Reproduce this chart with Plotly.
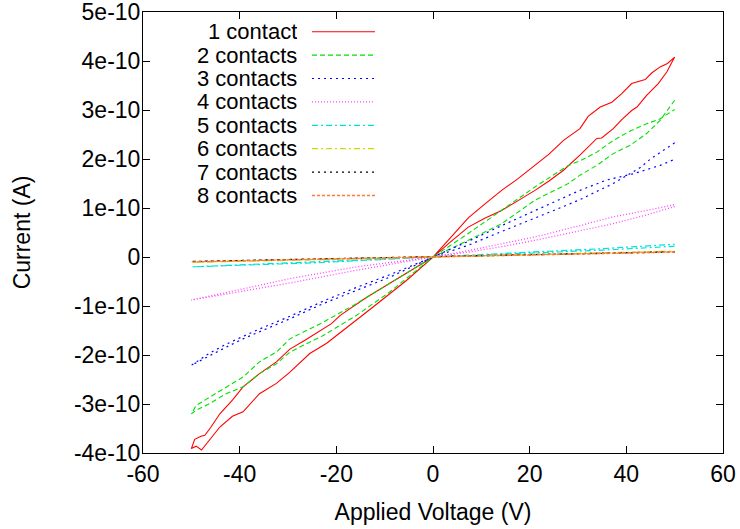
import plotly.graph_objects as go

# ---------------- data (current in units of 1e-10 A) ----------------
names = ["1 contact", "2 contacts", "3 contacts", "4 contacts",
         "5 contacts", "6 contacts", "7 contacts", "8 contacts"]

# 1 contact: lower (decreasing) branch 50 -> -50, then upper branch -50 -> 50
v1 = [50, 48.4, 46.6, 44.2, 42.2, 41.1, 39.0, 37.3, 34.9, 33.9, 30.4, 27.0, 24.0, 21.1, 17.6, 14.2, 10.7, 7.3, 3.5, 0,
      -5.5, -12.4, -16.0, -19.2, -22.0, -25.5, -29.6, -32.4, -35.9, -39.3, -41.5, -44.1, -46.2, -47.9, -49.0, -50,
      -49.3, -48.0, -47.2, -46.0, -44.1, -41.5, -39.3, -35.9, -32.4, -29.6, -26.5, -23.4, -21.0, -19.2, -13.7, -6.8, 0,
      3.5, 7.3, 10.7, 14.2, 17.6, 21.1, 24.0, 27.0, 30.4, 32.1, 34.6, 37.0, 39.0, 41.1, 43.9, 45.3, 47.0, 48.5, 50]
i1 = [4.08, 3.78, 3.54, 3.30, 3.06, 2.99, 2.80, 2.62, 2.43, 2.42, 2.08, 1.77, 1.55, 1.36, 1.15, 0.95, 0.79, 0.61, 0.30, 0.0,
      -0.48, -1.02, -1.30, -1.56, -1.76, -1.97, -2.35, -2.58, -2.79, -3.16, -3.25, -3.47, -3.74, -3.94, -3.86, -3.91,
      -3.72, -3.66, -3.64, -3.48, -3.20, -2.92, -2.65, -2.38, -2.14, -1.88, -1.70, -1.50, -1.36, -1.19, -0.82, -0.41, 0.0,
      0.38, 0.80, 1.08, 1.36, 1.60, 1.87, 2.10, 2.38, 2.62, 2.87, 3.06, 3.16, 3.33, 3.54, 3.62, 3.76, 3.88, 3.95, 4.08]

# 2 contacts
v2 = [50, 47.0, 44.2, 40.8, 37.3, 33.9, 30.4, 28.0, 21.1, 14.2, 7.3, 0,
      -8.9, -15.8, -22.7, -29.6, -32.4, -35.9, -39.3, -42.8, -46.2, -49.0, -50,
      -49.0, -46.2, -42.8, -39.3, -35.9, -32.4, -29.6, -22.7, -15.8, -8.9, 0,
      7.3, 14.2, 21.1, 28.0, 30.4, 33.9, 37.3, 40.8, 44.2, 47.0, 50]
i2 = [3.20, 2.79, 2.52, 2.28, 2.11, 1.87, 1.67, 1.50, 1.16, 0.68, 0.34, 0.0,
      -0.71, -1.19, -1.60, -1.94, -2.18, -2.38, -2.65, -2.79, -2.99, -3.13, -3.20,
      -3.03, -2.86, -2.65, -2.45, -2.14, -1.94, -1.67, -1.33, -0.95, -0.54, 0.0,
      0.48, 0.95, 1.43, 1.87, 1.96, 2.14, 2.38, 2.57, 2.72, 2.82, 3.01]

# 3 contacts
v3 = [50, 47.5, 45.0, 42.8, 40.0, 37.3, 33.5, 30.4, 25.0, 21.1, 14.2, 7.3, 0,
      -8.9, -15.8, -22.7, -29.6, -35.9, -39.3, -42.8, -46.2, -50,
      -46.2, -42.8, -39.3, -35.9, -29.6, -22.7, -15.8, -8.9, 0,
      7.3, 14.2, 21.1, 25.0, 30.4, 35.9, 41.5, 47.0, 49.9]
i3 = [2.33, 2.17, 2.00, 1.82, 1.66, 1.50, 1.32, 1.17, 0.95, 0.80, 0.52, 0.24, 0.0,
      -0.41, -0.68, -0.95, -1.26, -1.53, -1.67, -1.84, -2.01, -2.21,
      -1.96, -1.78, -1.62, -1.47, -1.21, -0.90, -0.62, -0.36, 0.0,
      0.32, 0.64, 0.95, 1.12, 1.36, 1.57, 1.70, 1.87, 1.99]

# 4 contacts
v4 = [50, 44.2, 37.3, 30.4, 21.1, 14.2, 7.3, 0,
      -15.8, -29.6, -39.3, -50,
      -39.3, -29.6, -15.8, 0,
      7.3, 14.2, 21.1, 30.4, 37.3, 44.2, 50]
i4 = [1.03, 0.86, 0.68, 0.53, 0.34, 0.21, 0.10, 0.0,
      -0.27, -0.53, -0.70, -0.88,
      -0.65, -0.44, -0.20, 0.0,
      0.13, 0.27, 0.41, 0.64, 0.82, 0.95, 1.07]

# 5 contacts
v5 = [50, 35, 20, 0, -25, -50, -25, 0, 20, 35, 50]
i5 = [0.22, 0.14, 0.08, 0.0, -0.12, -0.20, -0.10, 0.0, 0.10, 0.17, 0.26]

# 6 contacts
v6 = [50, 25, 0, -25, -50, -25, 0, 25, 50]
i6 = [0.11, 0.05, 0.0, -0.06, -0.11, -0.05, 0.0, 0.055, 0.12]

# 7 contacts
v7 = [50, 25, 0, -25, -50, -25, 0, 25, 50]
i7 = [0.10, 0.05, 0.0, -0.045, -0.09, -0.04, 0.0, 0.05, 0.11]

# 8 contacts
v8 = [50, 25, 0, -25, -50, -25, 0, 25, 50]
i8 = [0.10, 0.05, 0.0, -0.05, -0.10, -0.045, 0.0, 0.055, 0.11]

volts = [v1, v2, v3, v4, v5, v6, v7, v8]
currents = [i1, i2, i3, i4, i5, i6, i7, i8]

x_ticks = [-60, -40, -20, 0, 20, 40, 60]
y_tick_units = [5, 4, 3, 2, 1, 0, -1, -2, -3, -4]
y_tick_labels = ["5e-10", "4e-10", "3e-10", "2e-10", "1e-10", "0",
                 "-1e-10", "-2e-10", "-3e-10", "-4e-10"]

# ---------------- styles ----------------
colors = ["#ff0000", "#00e000", "#0000ff", "#ff44ff",
          "#00e0e0", "#d8d800", "#000000", "#ff7a3a"]
dashes = ["solid", "5px,3px", "2px,4px", "1px,2px",
          "6px,3px,2px,3px", "6px,3px,2px,3px", "2px,4px", "3px,2px"]
widths = [1.1, 1.1, 1.2, 1.3, 1.2, 1.2, 1.1, 1.3]

FONT = "Liberation Sans, Arial, Helvetica, sans-serif"
FS = 23
FS_KEY = 22

fig = go.Figure()
for n, v, i, c, d, w in zip(names, volts, currents, colors, dashes, widths):
    fig.add_trace(go.Scatter(x=v, y=[k * 1e-10 for k in i], mode="lines", name=n,
                             line=dict(color=c, width=w, dash=d), showlegend=False))

# gnuplot-style key: text right-aligned, line sample to the right
L, R, T, B = 143, 723, 12, 453
W, H = R - L, B - T
row0, dy = 31.7, 23.4
tx = (298 - L) / W
sx0, sx1 = (312 - L) / W, (375 - L) / W
for k, (n, c, d, w) in enumerate(zip(names, colors, dashes, widths)):
    py = row0 + k * dy
    yp = (B - py) / H
    fig.add_annotation(x=tx, y=yp, xref="paper", yref="paper", text=n, showarrow=False,
                       xanchor="right", yanchor="middle", height=21, borderpad=0,
                       font=dict(family=FONT, size=FS_KEY, color="black"))
    fig.add_shape(type="line", xref="paper", yref="paper", x0=sx0, x1=sx1, y0=yp, y1=yp,
                  line=dict(color=c, width=w, dash=d))

axis_common = dict(showgrid=False, zeroline=False, showline=True, linecolor="black", linewidth=1,
                   ticks="inside", ticklen=7, tickcolor="black", mirror="ticks", automargin=False,
                   ticklabeloverflow="allow",
                   tickfont=dict(family=FONT, size=FS, color="black"))

fig.update_layout(
    width=740, height=529,
    margin=dict(l=L, r=740 - R, t=T, b=529 - B, autoexpand=False),
    paper_bgcolor="white", plot_bgcolor="white",
    font=dict(family=FONT, size=FS, color="black"),
    xaxis=dict(range=[-60, 60], tickvals=x_ticks, ticktext=[str(t) for t in x_ticks],
               title=dict(text="Applied Voltage (V)", font=dict(family=FONT, size=FS), standoff=18),
               **axis_common),
    yaxis=dict(range=[-4e-10, 5e-10], tickvals=[t * 1e-10 for t in y_tick_units], ticktext=y_tick_labels,
               ticklabelstandoff=-3,
               title=dict(text="Current (A)", font=dict(family=FONT, size=FS), standoff=36),
               **axis_common),
)

fig.write_html("out.html")
